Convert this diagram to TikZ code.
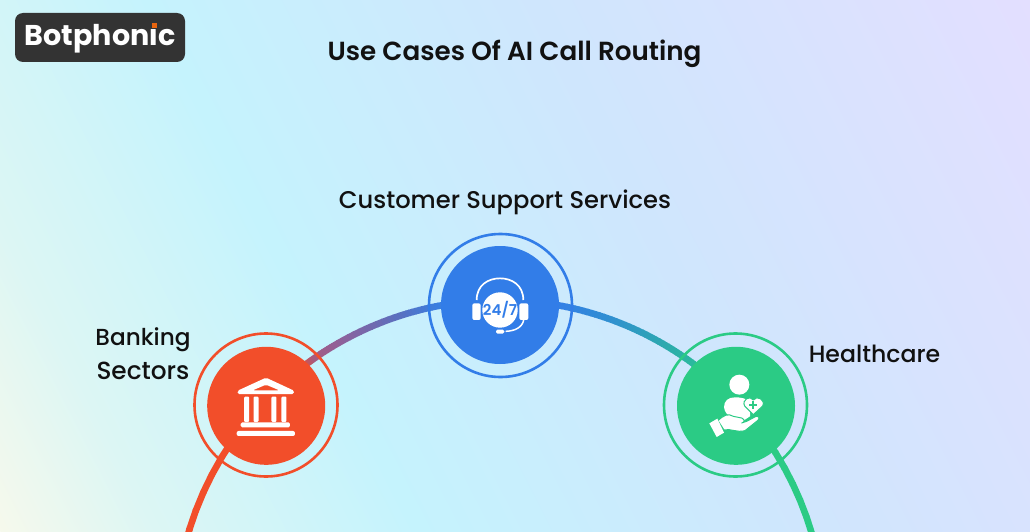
\documentclass[tikz,border=0pt]{standalone}
\usepackage{fontspec}
\setmainfont{Poppins}
\newfontfamily\popmed{Poppins Medium}
\newfontfamily\popsemi{Poppins SemiBold}
\newfontfamily\popbold{Poppins Bold}
\usetikzlibrary{calc}
\definecolor{inkc}{HTML}{111111}
\definecolor{logoc}{HTML}{333333}
\definecolor{dotc}{HTML}{E8650F}
\definecolor{redc}{HTML}{F24E2A}
\definecolor{bluec}{HTML}{327DE8}
\definecolor{greenc}{HTML}{2BCB85}
\definecolor{bgA}{HTML}{F6F9EC}
\definecolor{bgB}{HTML}{DCF6F4}
\definecolor{bgC}{HTML}{C5F3FD}
\definecolor{bgD}{HTML}{CFE6FD}
\definecolor{bgE}{HTML}{E3DFFF}
\definecolor{arcA}{HTML}{A55C82}
\definecolor{arcB}{HTML}{955F95}
\definecolor{arcC}{HTML}{5A70C0}
\definecolor{arcD}{HTML}{3A7FE0}
\definecolor{arcE}{HTML}{3380E5}
\definecolor{arcF}{HTML}{3090D0}
\definecolor{arcG}{HTML}{2DA8B0}
\definecolor{arcH}{HTML}{2BB8A0}
\pgfdeclarehorizontalshading{bgshade}{100bp}{
  color(0bp)=(bgA); color(25bp)=(bgA); color(31bp)=(bgB); color(41bp)=(bgC);
  color(56bp)=(bgD); color(75bp)=(bgE); color(100bp)=(bgE)}
\tikzset{
  ringnode/.style={circle,draw=#1,line width=2.6pt,fill=none,minimum size=143pt,inner sep=0pt},
  discnode/.style={circle,fill=#1,minimum size=118pt,inner sep=0pt},
  textlabel/.style={font=\popmed\fontsize{23.2}{30}\selectfont,text=inkc,inner sep=0pt,anchor=base},
  whiteshape/.style={fill=white,draw=none},
  arcseg/.style={line width=6.6pt,line cap=butt}
}
\begin{document}
\begin{tikzpicture}[x=1pt,y=-1pt]
\useasboundingbox (0,0) rectangle (1030,532);
\begin{scope}
\clip (0,0) rectangle (1030,532);
\begin{scope}[transform canvas={rotate=27}]
\shade[shading=bgshade] (-241,-1100) rectangle (918,1100);
\end{scope}
% arc with a colour gradient along it
\coordinate (arccentre) at (500,625);
\foreach \pa/\pb/\ca/\cb in {-80/-38/redc/redc,-38/-35/redc/arcA,-35/-31/arcA/arcB,-31/-18/arcB/arcC,-18/-11/arcC/arcD,-11/11/arcD/arcE,11/20/arcE/arcF,20/30/arcF/arcG,30/36/arcG/arcH,36/42/arcH/greenc,42/80/greenc/greenc}{
  \foreach \i in {0,...,11}{
    \pgfmathsetmacro{\ta}{\pa+(\pb-\pa)*\i/12}
    \pgfmathsetmacro{\tb}{\pa+(\pb-\pa)*(\i+1)/12+0.15}
    \pgfmathsetmacro{\mx}{100*(1-(\i+0.5)/12)}
    \colorlet{segc}{\ca!\mx!\cb}
    \draw[arcseg,draw=segc] ($(arccentre)+({325*sin(\ta)},{-325*cos(\ta)})$) -- ($(arccentre)+({325*sin(\tb)},{-325*cos(\tb)})$);
  }
}
\end{scope}
% logo
\node[fill=logoc,rounded corners=8pt,minimum width=170pt,minimum height=49pt,inner sep=0pt] (logo) at (100,37.5) {};
\node[font=\popbold\fontsize{28.6}{36}\selectfont,text=white,inner sep=0pt,anchor=base] (logotext) at (100,46) {Botphonic};
\fill[logoc] (146,18) rectangle (160,28.4);
\fill[dotc] (152.3,22.8) rectangle (157.3,27.8);
% texts
\node[textlabel,font=\popsemi\fontsize{26.2}{30}\selectfont] (title) at (514.5,60.5) {Use Cases Of AI Call Routing};
\node[textlabel,font=\popmed\fontsize{24.2}{30}\selectfont] (cust) at (505,208) {Customer Support Services};
\node[textlabel] (bank1) at (143,345) {Banking};
\node[textlabel,font=\popmed\fontsize{24.8}{30}\selectfont] (bank2) at (143,379) {Sectors};
\node[textlabel,font=\popmed\fontsize{23.6}{30}\selectfont] (health) at (874.5,362) {Healthcare};
% rings and discs
\node[ringnode=redc] (redring) at (266,405) {};
\node[discnode=redc] (reddisc) at (266.2,405.8) {};
\node[ringnode=bluec] (bluering) at (500.5,305.5) {};
\node[discnode=bluec] (bluedisc) at (500,305) {};
\node[ringnode=greenc] (greenring) at (735.5,405) {};
\node[discnode=greenc] (greendisc) at (736,405.8) {};
% bank icon
\begin{scope}[shift={(230,370)},x=0.3333pt,y=-0.3333pt]
\fill[whiteshape,rounded corners=1.5pt,even odd rule] (108,23) -- (192,62) -- (192,72) -- (23,72) -- (23,62) -- cycle (108,44) -- (68,61) -- (148,61) -- cycle;
\foreach \cx in {50,78,132,162}{\fill[whiteshape,rounded corners=1pt] ({\cx-7.5},80) rectangle ({\cx+7.5},156);}
\fill[whiteshape,rounded corners=1.5pt] (32,157) rectangle (180,172);
\fill[whiteshape,rounded corners=2pt] (20,183) rectangle (195,198);
\end{scope}
% headset icon
\begin{scope}[shift={(465,270)},x=0.3333pt,y=-0.3333pt]
\draw[white,line width=1.7pt] (35,90) .. controls (35,45) and (70,25) .. (105,25) .. controls (140,25) and (175,45) .. (175,90);
\fill[white] (105,120) circle (17.7pt);
\fill[whiteshape,rounded corners=2pt] (22,100) rectangle (47,150);
\fill[whiteshape,rounded corners=2pt] (163,100) rectangle (190,150);
\draw[white,line width=1.5pt] (176,150) .. controls (172,172) and (150,183) .. (122,184);
\fill[whiteshape,rounded corners=1.5pt] (93,179) rectangle (118,191);
\node[font=\popsemi\fontsize{15}{16}\selectfont,text=bluec,inner sep=0pt] (hours) at (105,120) {24/7};
\end{scope}
% healthcare icon
\begin{scope}[shift={(700,368)},x=0.3333pt,y=-0.3333pt]
\fill[white] (118,50) circle (10pt);
\fill[whiteshape] (72,118) .. controls (72,98) and (85,88) .. (105,88) .. controls (120,88) and (135,90) .. (150,100) -- (150,145) -- (130,158) .. controls (110,150) and (76,150) .. (72,118) -- cycle;
\draw[whiteshape,draw=greenc,line width=1pt,line join=round] (54,158) .. controls (70,142) and (85,135) .. (100,145) -- (125,150) .. controls (135,155) and (135,162) .. (125,165) -- (140,160) -- (168,145) .. controls (180,145) and (180,152) .. (170,160) -- (135,188) .. controls (110,195) and (90,180) .. (72,186) -- cycle;
\fill[whiteshape] (28,166) -- (52,152) -- (72,194) -- (50,207) -- cycle;
\draw[whiteshape,draw=greenc,line width=1pt,line join=round] (160,140) -- (134,114) .. controls (124,96) and (150,80) .. (160,96) .. controls (170,80) and (198,96) .. (188,114) -- cycle;
\fill[greenc] (157,100) rectangle (163,124);
\fill[greenc] (148,109) rectangle (172,115);
\end{scope}
\end{tikzpicture}
\end{document}
